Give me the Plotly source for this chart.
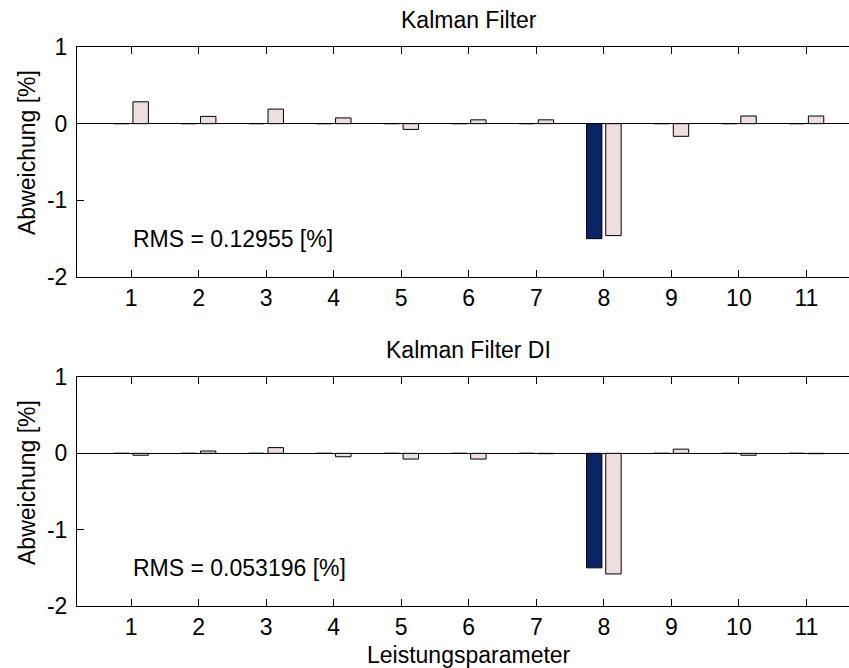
import plotly.graph_objects as go

# Leistungsparameter 1..11
params = list(range(1, 12))

# Abweichung [%] – Referenzabweichung (dunkel) und Schätzung (hell)
ref_kf = [0, 0, 0, 0, 0, 0, 0, -1.5, 0, 0, 0]
est_kf = [0.285, 0.095, 0.19, 0.075, -0.075, 0.05, 0.05, -1.46, -0.165, 0.1, 0.1]

ref_kfdi = [0, 0, 0, 0, 0, 0, 0, -1.5, 0, 0, 0]
est_kfdi = [-0.025, 0.03, 0.075, -0.045, -0.075, -0.075, -0.005, -1.58, 0.055, -0.025, -0.005]

titles = ["Kalman Filter", "Kalman Filter DI"]
rms_texts = ["RMS = 0.12955 [%]", "RMS = 0.053196 [%]"]

y_ticks = [-2, -1, 0, 1]
y_ticklabels = ["-2", "-1", "0", "1"]

DARK = "#0b2468"
LIGHT = "#eedede"
FONT = "Liberation Sans, Arial, sans-serif"
FS = 23

W, H = 849, 668
# panel pixel extents (top, bottom of plot area)
panels = [(47, 277), (377, 606)]
x_left = 77
x_right_full = 860  # right end of the full x range (lies just past the page edge)

fig = go.Figure()

series = [(ref_kf, est_kf), (ref_kfdi, est_kfdi)]
for i, (ref, est) in enumerate(series):
    xa = "x" if i == 0 else "x2"
    ya = "y" if i == 0 else "y2"
    fig.add_trace(go.Bar(x=params, y=ref, xaxis=xa, yaxis=ya,
                         marker=dict(color=DARK, line=dict(color="black", width=1)),
                         showlegend=False))
    fig.add_trace(go.Bar(x=params, y=est, xaxis=xa, yaxis=ya,
                         marker=dict(color=LIGHT, line=dict(color="black", width=1)),
                         showlegend=False))

axis_common = dict(
    showline=True, linecolor="black", linewidth=1,
    ticks="inside", ticklen=7, tickcolor="black",
    showgrid=False, automargin=False,
    tickfont=dict(family=FONT, size=FS, color="black"),
)

layout = dict(
    width=W, height=H,
    margin=dict(l=0, r=0, t=0, b=0, autoexpand=False),
    paper_bgcolor="white", plot_bgcolor="white",
    barmode="group", bargap=0.43, bargroupgap=0.2,
    font=dict(family=FONT, size=FS, color="black"),
)

plot_w = W - x_left
# x position (in x-domain fraction) of the centre of the full axis
x_mid = ((x_left + x_right_full) / 2 - x_left) / plot_w

annotations = []
for i, (top, bot) in enumerate(panels):
    suffix = "" if i == 0 else "2"
    dom_y = [1 - bot / H, 1 - top / H]
    ph = bot - top
    layout["xaxis" + suffix] = dict(
        axis_common, domain=[x_left / W, 1], range=[0.2, 11.63],
        tickmode="array", tickvals=params, ticktext=[str(p) for p in params],
        mirror="ticks", anchor="y" + suffix, zeroline=False,
    )
    layout["yaxis" + suffix] = dict(
        axis_common, domain=dom_y, range=[-2, 1],
        tickmode="array", tickvals=y_ticks, ticktext=y_ticklabels,
        anchor="x" + suffix, zeroline=True, zerolinecolor="black", zerolinewidth=1,
        ticklabelstandoff=4,
    )
    xd, yd = "x" + suffix + " domain", "y" + suffix + " domain"
    # panel title
    annotations.append(dict(
        text=titles[i], xref=xd, yref=yd,
        x=x_mid, y=1 + 27 / ph, xanchor="center", yanchor="middle",
        showarrow=False, font=dict(family=FONT, size=FS, color="black"),
    ))
    # y-axis title
    annotations.append(dict(
        text="Abweichung [%]", xref=xd, yref=yd,
        x=(27 - x_left) / plot_w, y=1 - 106 / ph, xanchor="center", yanchor="middle",
        textangle=-90, showarrow=False,
        font=dict(family=FONT, size=FS, color="black"),
    ))
    # RMS label
    annotations.append(dict(
        text=rms_texts[i], xref="x" + suffix, yref="y" + suffix,
        x=1, y=-1.5, xanchor="left", yanchor="middle", showarrow=False,
        font=dict(family=FONT, size=FS, color="black"),
    ))

top2, bot2 = panels[1]
annotations.append(dict(
    text="Leistungsparameter", xref="x2 domain", yref="y2 domain",
    x=x_mid, y=-(655 - bot2) / (bot2 - top2), xanchor="center", yanchor="middle",
    showarrow=False, font=dict(family=FONT, size=FS, color="black"),
))

layout["annotations"] = annotations
fig.update_layout(**layout)

fig.write_html("out.html")
